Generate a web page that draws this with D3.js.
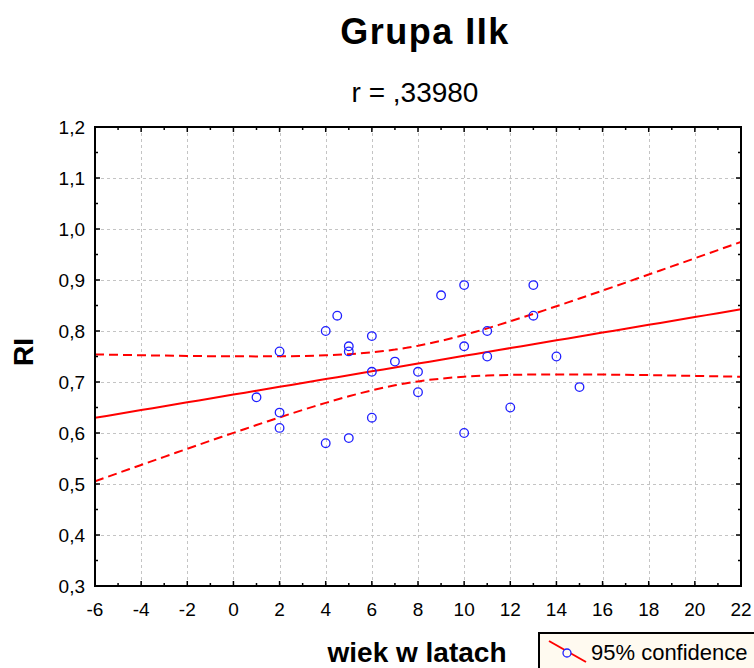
<!DOCTYPE html>
<html>
<head>
<meta charset="utf-8">
<script src="https://cdn.jsdelivr.net/npm/d3@7"></script>
<style>
  html, body { margin: 0; padding: 0; background: #ffffff; }
  svg { display: block; font-family: "Liberation Sans", Arial, sans-serif; }
</style>
</head>
<body>
<svg id="chart" width="754" height="668"></svg>
<script>
// Age in years (x) and RI (y) for each subject
const ageYears = [1, 2, 2, 2, 4, 4, 4.5, 5, 5, 5, 6, 6, 6, 7, 8, 8, 9, 10, 10, 10, 11, 11, 12, 13, 13, 14, 15];
const riValues = [0.67, 0.76, 0.64, 0.61, 0.80, 0.58, 0.83, 0.77, 0.76, 0.59, 0.79, 0.72, 0.63, 0.74, 0.72, 0.68, 0.87, 0.89, 0.77, 0.60, 0.80, 0.75, 0.65, 0.89, 0.83, 0.75, 0.69];

const xTicks = [-6, -4, -2, 0, 2, 4, 6, 8, 10, 12, 14, 16, 18, 20, 22];
const yTicks = [0.3, 0.4, 0.5, 0.6, 0.7, 0.8, 0.9, 1.0, 1.1, 1.2];

const titleText = "Grupa IIk";
const subtitleText = "r = ,33980";
const xLabel = "wiek w latach";
const yLabel = "RI";
const legendLabel = "95% confidence";
// two-sided 95% Student t critical value for n - 2 = 25 degrees of freedom
const tCritical = 2.0595;

const svg = d3.select("#chart");
const plot = { left: 95, right: 741, top: 127, bottom: 586 };

const x = d3.scaleLinear().domain([-6, 22]).range([plot.left, plot.right]);
const y = d3.scaleLinear().domain([0.3, 1.2]).range([plot.bottom, plot.top]);

// Least-squares fit with a 95% confidence band for the mean
const pts = ageYears.map((a, i) => ({ x: a, y: riValues[i] }));
const n = pts.length;
const mx = d3.mean(pts, d => d.x), my = d3.mean(pts, d => d.y);
const sxx = d3.sum(pts, d => (d.x - mx) ** 2);
const sxy = d3.sum(pts, d => (d.x - mx) * (d.y - my));
const slope = sxy / sxx, intercept = my - slope * mx;
const sse = d3.sum(pts, d => (d.y - (intercept + slope * d.x)) ** 2);
const se = Math.sqrt(sse / (n - 2));
const fit = v => intercept + slope * v;
const halfWidth = v => tCritical * se * Math.sqrt(1 / n + (v - mx) ** 2 / sxx);
const sampleX = d3.range(-6, 22.0001, 0.5);

// Grid
const grid = svg.append("g")
  .attr("stroke", "#c4c4c4").attr("stroke-width", 1).attr("stroke-dasharray", "3,3");
grid.selectAll("line.gx").data(xTicks.slice(1, -1)).join("line")
  .attr("x1", d => Math.round(x(d)) + 0.5).attr("x2", d => Math.round(x(d)) + 0.5)
  .attr("y1", plot.top).attr("y2", plot.bottom);
grid.selectAll("line.gy").data(yTicks.slice(1, -1)).join("line")
  .attr("y1", d => Math.round(y(d)) + 0.5).attr("y2", d => Math.round(y(d)) + 0.5)
  .attr("x1", plot.left).attr("x2", plot.right);

// Regression line and confidence band
const line = d3.line().x(d => x(d[0])).y(d => y(d[1]));
svg.append("clipPath").attr("id", "clip")
  .append("rect").attr("x", plot.left).attr("y", plot.top)
  .attr("width", plot.right - plot.left).attr("height", plot.bottom - plot.top);
const curves = svg.append("g").attr("clip-path", "url(#clip)")
  .attr("fill", "none").attr("stroke", "#ff0000").attr("stroke-width", 2);
curves.append("path").attr("d", line(sampleX.map(v => [v, fit(v)])));
curves.append("path").attr("stroke-dasharray", "9,5")
  .attr("d", line(sampleX.map(v => [v, fit(v) + halfWidth(v)])));
curves.append("path").attr("stroke-dasharray", "9,5")
  .attr("d", line(sampleX.map(v => [v, fit(v) - halfWidth(v)])));

// Points
svg.append("g").selectAll("circle").data(pts).join("circle")
  .attr("cx", d => x(d.x)).attr("cy", d => y(d.y)).attr("r", 4.3)
  .attr("fill", "none").attr("stroke", "#1f1fff").attr("stroke-width", 1.3);

// Frame with inward ticks on all four sides
const axes = svg.append("g").attr("stroke", "#000");
axes.append("rect").attr("x", plot.left).attr("y", plot.top)
  .attr("width", plot.right - plot.left).attr("height", plot.bottom - plot.top)
  .attr("fill", "none").attr("stroke-width", 2);
const xMinor = d3.range(-5, 22, 2);
const yMinor = d3.range(0.35, 1.2, 0.1);
[{ vals: xTicks, len: 5 }, { vals: xMinor, len: 3 }].forEach(t => {
  axes.append("g").selectAll("line").data(t.vals).join("line")
    .attr("x1", d => x(d)).attr("x2", d => x(d))
    .attr("y1", plot.bottom).attr("y2", plot.bottom - t.len).attr("stroke-width", 1.5);
  axes.append("g").selectAll("line").data(t.vals).join("line")
    .attr("x1", d => x(d)).attr("x2", d => x(d))
    .attr("y1", plot.top).attr("y2", plot.top + t.len).attr("stroke-width", 1.5);
});
[{ vals: yTicks, len: 5 }, { vals: yMinor, len: 3 }].forEach(t => {
  axes.append("g").selectAll("line").data(t.vals).join("line")
    .attr("y1", d => y(d)).attr("y2", d => y(d))
    .attr("x1", plot.left).attr("x2", plot.left + t.len).attr("stroke-width", 1.5);
  axes.append("g").selectAll("line").data(t.vals).join("line")
    .attr("y1", d => y(d)).attr("y2", d => y(d))
    .attr("x1", plot.right).attr("x2", plot.right - t.len).attr("stroke-width", 1.5);
});

// Tick labels
const fmtY = d3.format(".1f");
svg.append("g").selectAll("text").data(xTicks).join("text")
  .attr("x", d => x(d)).attr("y", 616).attr("text-anchor", "middle")
  .attr("font-size", 19).attr("fill", "#000").text(d => d);
svg.append("g").selectAll("text").data(yTicks).join("text")
  .attr("x", 85).attr("y", d => y(d) + 7).attr("text-anchor", "end")
  .attr("font-size", 19).attr("fill", "#000").text(d => fmtY(d).replace(".", ","));

// Titles
svg.append("text").attr("x", 425).attr("y", 44).attr("text-anchor", "middle")
  .attr("font-size", 36).attr("font-weight", "bold").attr("letter-spacing", 1.5).text(titleText);
svg.append("text").attr("x", 415).attr("y", 102).attr("text-anchor", "middle")
  .attr("font-size", 28).text(subtitleText);
svg.append("text").attr("x", 417).attr("y", 662).attr("text-anchor", "middle")
  .attr("font-size", 28).attr("font-weight", "bold").text(xLabel);
svg.append("text").attr("transform", "translate(33,352) rotate(-90)")
  .attr("text-anchor", "middle").attr("font-size", 28).attr("font-weight", "bold").text(yLabel);

// Legend
const lg = svg.append("g");
lg.append("rect").attr("x", 539).attr("y", 633).attr("width", 230).attr("height", 50)
  .attr("fill", "#fffaf0").attr("stroke", "#000").attr("stroke-width", 2);
lg.append("line").attr("x1", 549).attr("y1", 641).attr("x2", 586).attr("y2", 662)
  .attr("stroke", "#ff0000").attr("stroke-width", 2);
lg.append("circle").attr("cx", 567).attr("cy", 653).attr("r", 4)
  .attr("fill", "#fffaf0").attr("stroke", "#1f1fff").attr("stroke-width", 1.3);
lg.append("text").attr("x", 591).attr("y", 660).attr("font-size", 22).text(legendLabel);
</script>
</body>
</html>
